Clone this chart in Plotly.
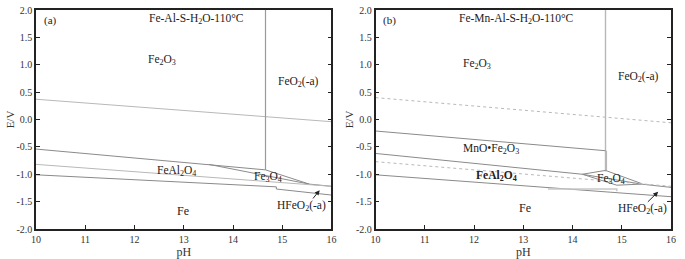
import plotly.graph_objects as go
from plotly.subplots import make_subplots

# ---------------- data (pH, E/V) ----------------
# panel (a)  Fe-Al-S-H2O-110°C
a_water_ph = [10, 16]
a_water_e = [0.37, -0.04]
a_vert_ph = [14.66, 14.66]
a_vert_e = [2.0, -0.92]
a_top_ph = [10, 13.51, 14.66, 15.55, 16]
a_top_e = [-0.54, -0.82, -0.92, -1.18, -1.22]
a_diag_ph = [13.51, 15.55]
a_diag_e = [-0.82, -1.18]
a_mid_ph = [10, 16]
a_mid_e = [-0.82, -1.22]
a_bot_ph = [10, 14.88, 14.88, 16]
a_bot_e = [-1.01, -1.23, -1.27, -1.38]

# panel (b)  Fe-Mn-Al-S-H2O-110°C
b_water_ph = [10, 16]
b_water_e = [0.40, -0.06]
b_vert_ph = [14.67, 14.67]
b_vert_e = [2.0, -0.95]
b_vert2_ph = [14.69, 14.69]
b_vert2_e = [-0.57, -0.93]
b_mno_ph = [10, 14.67]
b_mno_e = [-0.21, -0.57]
b_l2_ph = [10, 14.2, 15.4, 16]
b_l2_e = [-0.62, -1.0, -1.18, -1.24]
b_fe3o4_top_ph = [14.2, 14.67, 15.4]
b_fe3o4_top_e = [-1.0, -0.93, -1.17]
b_fe3o4_bot_ph = [14.2, 14.9, 15.4]
b_fe3o4_bot_e = [-1.0, -1.2, -1.18]
b_dot_ph = [10, 16]
b_dot_e = [-0.77, -1.22]
b_bot_ph = [10, 16]
b_bot_e = [-1.01, -1.41]
b_step_ph = [13.5, 14.9, 14.9]
b_step_e = [-1.27, -1.27, -1.31]

x_ticks = [10, 11, 12, 13, 14, 15, 16]
y_ticks = [2.0, 1.5, 1.0, 0.5, 0.0, -0.5, -1.0, -1.5, -2.0]
y_tick_text = ["2.0", "1.5", "1.0", "0.5", "0.0", "-0.5", "-1.0", "-1.5", "-2.0"]

FONT = "Liberation Serif"
LINE = "#8a8a8a"
LIGHT = "#b8b8b8"

fig = make_subplots(rows=1, cols=2, horizontal_spacing=0.0693)


def add_line(ph, e, col, color=LINE, width=1, dash="solid"):
    fig.add_trace(go.Scatter(x=ph, y=e, mode="lines",
                             line=dict(color=color, width=width, dash=dash),
                             hoverinfo="skip", showlegend=False),
                  row=1, col=col)


# panel a
add_line(a_water_ph, a_water_e, 1, LIGHT, 1)
add_line(a_vert_ph, a_vert_e, 1, "#9a9a9a", 1.2)
add_line(a_top_ph, a_top_e, 1)
add_line(a_diag_ph, a_diag_e, 1)
add_line(a_mid_ph, a_mid_e, 1, LIGHT, 1)
add_line(a_bot_ph, a_bot_e, 1)

# panel b
add_line(b_water_ph, b_water_e, 2, LIGHT, 1, "dot")
add_line(b_vert_ph, b_vert_e, 2, LIGHT, 1.4)
add_line(b_vert2_ph, b_vert2_e, 2, LIGHT, 1.2)
add_line(b_mno_ph, b_mno_e, 2)
add_line(b_l2_ph, b_l2_e, 2)
add_line(b_fe3o4_top_ph, b_fe3o4_top_e, 2)
add_line(b_fe3o4_bot_ph, b_fe3o4_bot_e, 2)
add_line(b_dot_ph, b_dot_e, 2, LIGHT, 1, "dot")
add_line(b_bot_ph, b_bot_e, 2)
add_line(b_step_ph, b_step_e, 2, "#c8c8c8", 1.5)

for c in (1, 2):
    fig.update_xaxes(range=[10, 16], tickvals=x_ticks, ticks="inside", ticklen=4,
                     tickwidth=1.2, tickcolor="#222", showline=True, linecolor="#222",
                     linewidth=1.5, mirror=True, showgrid=False, zeroline=False,
                     automargin=False,
                     tickfont=dict(family=FONT, size=10, color="#333"),
                     title=dict(text="pH", font=dict(family=FONT, size=12, color="#333"),
                                standoff=0),
                     row=1, col=c)
    fig.update_yaxes(range=[-2, 2], tickvals=y_ticks, ticktext=y_tick_text,
                     ticks="inside", ticklen=4, tickwidth=1.2, tickcolor="#222",
                     showline=True, linecolor="#222", linewidth=1.5, mirror="ticks",
                     showgrid=False, zeroline=False, automargin=False,
                     tickfont=dict(family=FONT, size=10, color="#333"),
                     title=dict(text="E/V", font=dict(family=FONT, size=11, color="#333"),
                                standoff=0),
                     row=1, col=c)


def label(x, y, text, ref, size=11.5, xanchor="center"):
    fig.add_annotation(x=x, y=y, xref=ref, yref=ref.replace("x", "y"), text=text,
                       showarrow=False, xanchor=xanchor,
                       font=dict(family=FONT, size=size, color="#222"))


# labels panel a
label(10.12, 1.8, "(a)", "x", 11, xanchor="left")
label(13.26, 1.83, "Fe-Al-S-H<sub>2</sub>O-110°C", "x", 11.5)
label(12.55, 1.08, "Fe<sub>2</sub>O<sub>3</sub>", "x")
label(15.33, 0.68, "FeO<sub>2</sub>(-a)", "x")
label(12.85, -0.94, "FeAl<sub>2</sub>O<sub>4</sub>", "x")
label(14.72, -1.05, "Fe<sub>3</sub>O<sub>4</sub>", "x")
label(12.99, -1.67, "Fe", "x", 12)
label(15.4, -1.58, "HFeO<sub>2</sub>(-a)", "x")

# labels panel b
label(10.12, 1.8, "(b)", "x2", 11, xanchor="left")
label(12.87, 1.83, "Fe-Mn-Al-S-H<sub>2</sub>O-110°C", "x2", 11.5)
label(12.06, 1.02, "Fe<sub>2</sub>O<sub>3</sub>", "x2")
label(15.35, 0.78, "FeO<sub>2</sub>(-a)", "x2")
label(12.35, -0.53, "MnO•Fe<sub>2</sub>O<sub>3</sub>", "x2")
label(12.45, -1.03, "<b>FeAl<sub>2</sub>O<sub>4</sub></b>", "x2")
label(14.79, -1.08, "Fe<sub>3</sub>O<sub>4</sub>", "x2")
label(13.03, -1.62, "Fe", "x2", 12)
label(15.42, -1.64, "HFeO<sub>2</sub>(-a)", "x2")

# arrows
fig.add_annotation(x=15.76, y=-1.29, ax=15.6, ay=-1.47, xref="x", yref="y",
                   axref="x", ayref="y", text="", showarrow=True, arrowhead=2,
                   arrowsize=1, arrowwidth=1, arrowcolor="#222")
fig.add_annotation(x=15.74, y=-1.32, ax=15.5, ay=-1.53, xref="x2", yref="y2",
                   axref="x2", ayref="y2", text="", showarrow=True, arrowhead=2,
                   arrowsize=1, arrowwidth=1, arrowcolor="#222")

fig.update_layout(width=685, height=259, margin=dict(l=36, r=14, t=10, b=30),
                  paper_bgcolor="white", plot_bgcolor="white",
                  font=dict(family=FONT), hovermode=False)

# remove the default 8 px page margin so the figure fills the window
fig.write_html("out.html",
               config={"displayModeBar": False},
               post_script="document.body.style.margin='0';"
                           "document.body.style.overflow='hidden';")
